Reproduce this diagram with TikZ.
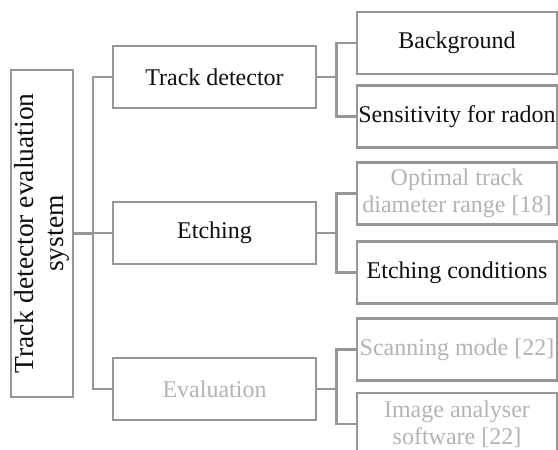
\documentclass[tikz,border=0pt]{standalone}
\usepackage{fontspec}
\setmainfont{Liberation Serif}
\definecolor{bord}{RGB}{150,150,150}
\definecolor{txt}{RGB}{15,15,15}
\definecolor{faint}{RGB}{180,180,180}
\begin{document}
\begin{tikzpicture}[x=1pt,y=-1pt,
  box/.style={draw=bord,line width=2.3pt,fill=white,inner sep=1pt,align=center,
    font=\fontsize{24}{27}\selectfont,text=txt},
  lone/.style={box,minimum width=203pt,minimum height=62pt},
  ltwo/.style={box,minimum width=200pt,minimum height=62pt},
  dim/.style={text=faint},
  conn/.style={draw=bord,line width=2.1pt}]
\useasboundingbox (0,0) rectangle (558,450);
\begin{scope}
\clip (0,0) rectangle (558,450);
\node[box,rotate=90,minimum width=327pt,minimum height=62pt,font=\fontsize{27.5}{30}\selectfont] (root) at (42,233.5) {Track detector evaluation\\system};
\node[lone] (td) at (214.5,77) {Track detector};
\node[lone] (et) at (214.5,233) {Etching};
\node[lone,dim] (ev) at (214.5,389) {Evaluation};
\node[ltwo] (bg) at (457,43) {Background};
\node[ltwo] (sr) at (457,116.5) {Sensitivity for radon};
\node[ltwo,dim] (ot) at (457,193.5) {Optimal track\\diameter range [18]};
\node[ltwo] (ec) at (457,272.5) {Etching conditions};
\node[ltwo,dim] (sm) at (457,349.5) {Scanning mode [22]};
\node[ltwo,dim] (ia) at (457,424) {Image analyser\\software [22]};
\coordinate (j0) at (93,233.5);
\coordinate (j1) at (336.5,77);
\coordinate (j2) at (336.5,233);
\coordinate (j3) at (336.5,389);
\draw[conn] (root.south) -- (j0);
\draw[conn] (j0) |- (td.west);
\draw[conn] (j0) |- (et.west);
\draw[conn] (j0) |- (ev.west);
\draw[conn] (td.east) -- (j1);
\draw[conn] (j1) |- (bg.west);
\draw[conn] (j1) |- (sr.west);
\draw[conn] (et.east) -- (j2);
\draw[conn] (j2) |- (ot.west);
\draw[conn] (j2) |- (ec.west);
\draw[conn] (ev.east) -- (j3);
\draw[conn] (j3) |- (sm.west);
\draw[conn] (j3) |- (ia.west);
\end{scope}
\end{tikzpicture}
\end{document}
